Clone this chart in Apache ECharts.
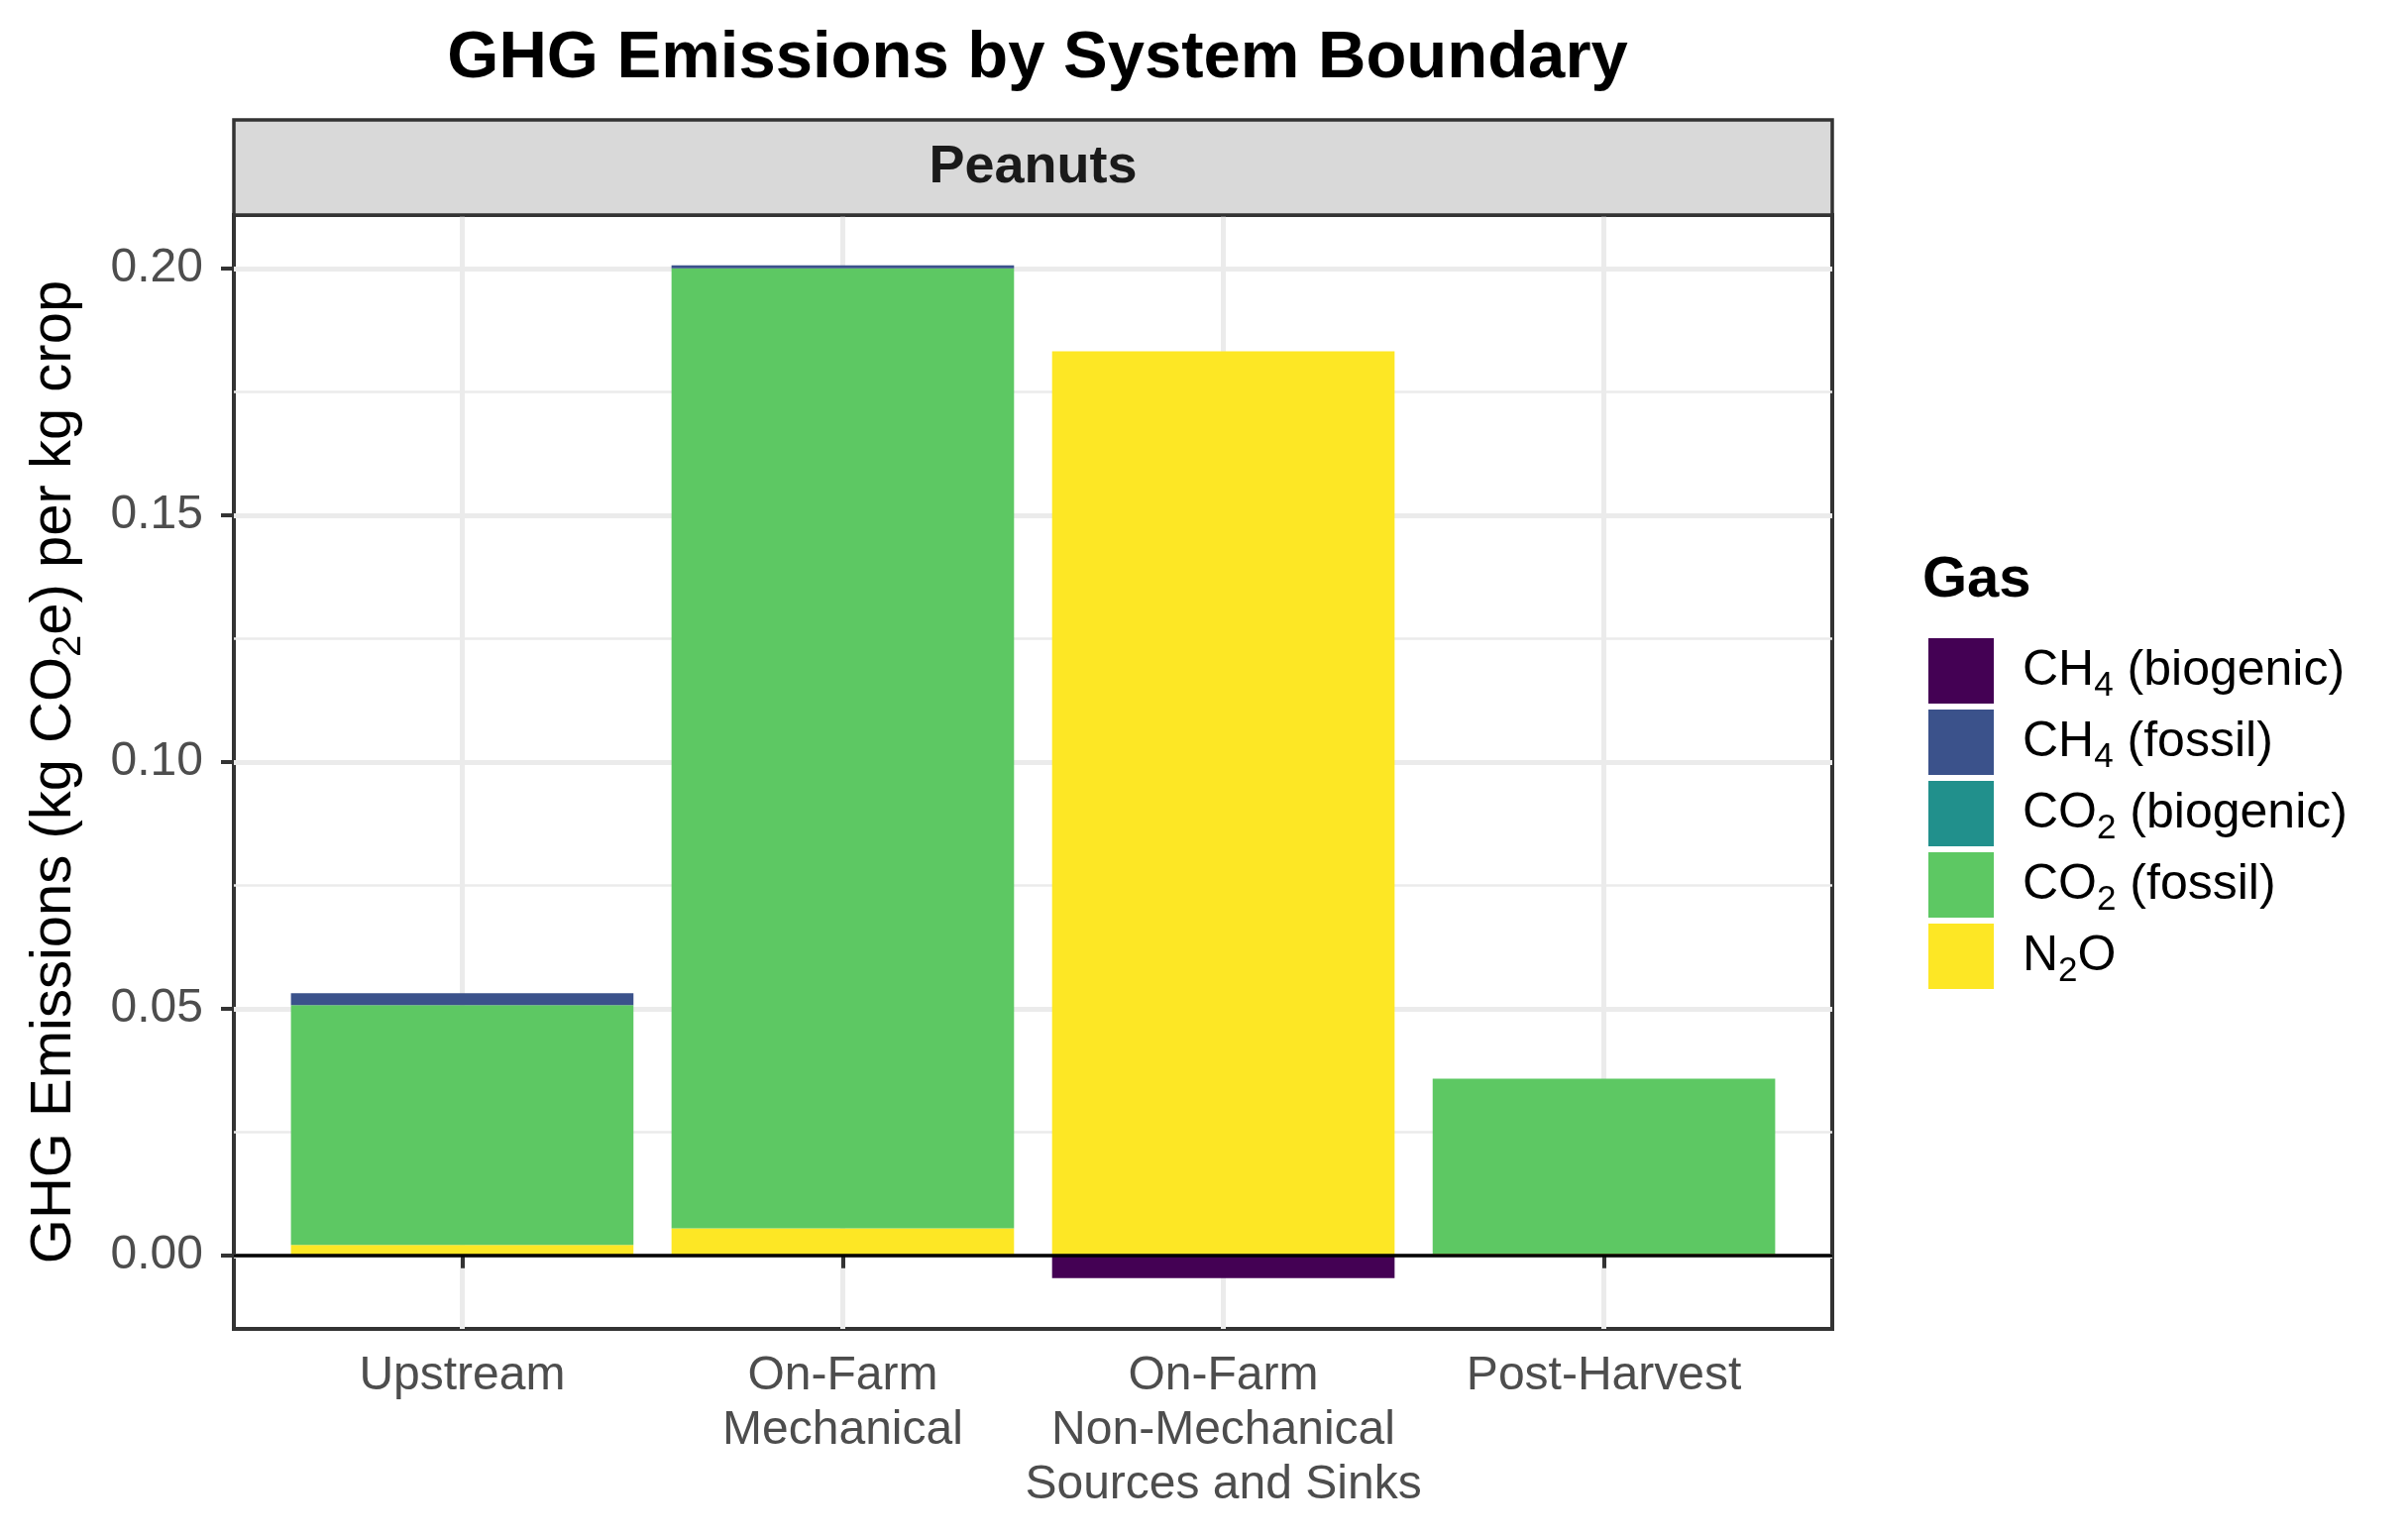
<!DOCTYPE html>
<html>
<head>
<meta charset="utf-8">
<script src="https://cdn.jsdelivr.net/npm/echarts@6/dist/echarts.min.js"></script>
<style>
html,body{margin:0;padding:0;background:#fff;}
#chart{width:2430px;height:1552px;}
</style>
</head>
<body>
<div id="chart"></div>
<script>
// ---- data ----
const categories = ['Upstream', 'On-Farm\nMechanical', 'On-Farm\nNon-Mechanical\nSources and Sinks', 'Post-Harvest'];
const ch4Biogenic = [0, 0, -0.0046, 0];
const ch4Fossil   = [0.0024, 0.0006, 0, 0];
const co2Biogenic = [0, 0, 0, 0];
const co2Fossil   = [0.0486, 0.1945, 0, 0.0355];
const n2o         = [0.0021, 0.0055, 0.1832, 0.0003];
const yTicks      = [0, 0.05, 0.10, 0.15, 0.20];
const yMinorTicks = [0.025, 0.075, 0.125, 0.175];
const yMin = -0.0149, yMax = 0.2108;
const gasNames  = ['CH4 (biogenic)', 'CH4 (fossil)', 'CO2 (biogenic)', 'CO2 (fossil)', 'N2O'];
const gasColors = ['#440154', '#3B528B', '#21908C', '#5DC863', '#FDE725'];
const panelTitle = 'Peanuts';

const FONT = '"Liberation Sans", Arial, Helvetica, sans-serif';
const xPos = categories.map((c, i) => i + 1);

// panel geometry (ggplot discrete expansion: 0.6 of a band on each side)
const PANEL_L = 236, PANEL_T = 217, PANEL_W = 1613, PANEL_H = 1124;
const BAND = PANEL_W / (categories.length + 0.2);
const BARS_L = PANEL_L + 0.1 * BAND;

// stacking order (bottom first) like ggplot: N2O, CO2 fossil, CO2 biogenic, CH4 fossil, CH4 biogenic
const stackOrder = [
  { name: 'N2O', data: n2o, color: gasColors[4] },
  { name: 'CO2 (fossil)', data: co2Fossil, color: gasColors[3] },
  { name: 'CO2 (biogenic)', data: co2Biogenic, color: gasColors[2] },
  { name: 'CH4 (fossil)', data: ch4Fossil, color: gasColors[1] },
  { name: 'CH4 (biogenic)', data: ch4Biogenic, color: gasColors[0] }
];

const legendRich = {
  'CH4 (biogenic)': '{sp| }{m|CH}{s|4}{m| (biogenic)}',
  'CH4 (fossil)': '{sp| }{m|CH}{s|4}{m| (fossil)}',
  'CO2 (biogenic)': '{sp| }{m|CO}{s|2}{m| (biogenic)}',
  'CO2 (fossil)': '{sp| }{m|CO}{s|2}{m| (fossil)}',
  'N2O': '{sp| }{m|N}{s|2}{m|O}'
};

const chart = echarts.init(document.getElementById('chart'), null, { renderer: 'canvas' });

const series = stackOrder.map(s => ({
  name: s.name,
  type: 'bar',
  stack: 'total',
  xAxisIndex: 0,
  yAxisIndex: 0,
  barWidth: '90%',
  data: s.data,
  itemStyle: { color: s.color, borderWidth: 0 },
  emphasis: { disabled: true },
  z: 2
}));

// horizontal reference line at y = 0 across the whole panel
series.push({
  name: 'zero',
  type: 'line',
  xAxisIndex: 1,
  yAxisIndex: 1,
  data: [],
  silent: true,
  z: 6,
  markLine: {
    silent: true,
    symbol: 'none',
    label: { show: false },
    lineStyle: { color: '#000000', width: 3.5, type: 'solid' },
    data: [{ yAxis: 0 }],
    z: 6
  }
});

const option = {
  animation: false,
  backgroundColor: '#ffffff',
  title: [
    {
      text: 'GHG Emissions by System Boundary',
      left: 1042,
      top: 21,
      textAlign: 'center',
      textStyle: { fontFamily: FONT, fontSize: 67, fontWeight: 'bold', color: '#000000' }
    },
    {
      text: 'Gas',
      left: 1935,
      top: 552,
      textStyle: { fontFamily: FONT, fontSize: 58, fontWeight: 'bold', color: '#000000' }
    }
  ],
  legend: {
    orient: 'vertical',
    left: 1941,
    top: 639,
    itemWidth: 66,
    itemHeight: 66,
    itemGap: 6,
    icon: 'rect',
    selectedMode: false,
    align: 'left',
    data: gasNames,
    formatter: name => legendRich[name],
    textStyle: {
      fontFamily: FONT,
      fontSize: 50,
      color: '#000000',
      rich: {
        sp: { width: 24, fontSize: 10, lineHeight: 66 },
        m: { fontFamily: FONT, fontSize: 50, color: '#000000', lineHeight: 66 },
        s: { fontFamily: FONT, fontSize: 35, color: '#000000', lineHeight: 40, verticalAlign: 'bottom' }
      }
    }
  },
  grid: [
    {
      left: BARS_L, top: PANEL_T, width: BAND * categories.length, height: PANEL_H,
      containLabel: false, outerBoundsMode: 'none', show: false
    },
    {
      left: PANEL_L, top: PANEL_T, width: PANEL_W, height: PANEL_H,
      containLabel: false, outerBoundsMode: 'none',
      show: true, backgroundColor: 'transparent', borderColor: '#333333', borderWidth: 4
    }
  ],
  xAxis: [
    {
      type: 'category',
      gridIndex: 0,
      data: categories,
      boundaryGap: true,
      axisLine: { show: false },
      axisTick: { show: false },
      axisLabel: { show: false },
      splitLine: { show: false }
    },
    {
      type: 'value',
      gridIndex: 1,
      min: 0.4,
      max: 4.6,
      axisLine: { show: false },
      axisTick: { show: true, customValues: xPos, length: 13, lineStyle: { color: '#333333', width: 4 } },
      axisLabel: {
        show: true,
        customValues: xPos,
        formatter: v => categories[Math.round(v) - 1],
        fontFamily: FONT,
        fontSize: 48,
        lineHeight: 55,
        color: '#4D4D4D',
        margin: 20,
        align: 'center'
      },
      splitLine: { show: true, lineStyle: { color: '#EBEBEB', width: 5 } }
    }
  ],
  yAxis: [
    {
      type: 'value',
      gridIndex: 0,
      min: yMin,
      max: yMax,
      axisLine: { show: false },
      axisTick: { show: false },
      axisLabel: { show: false },
      splitLine: { show: false }
    },
    {
      type: 'value',
      gridIndex: 1,
      min: yMin,
      max: yMax,
      position: 'left',
      axisLine: { show: false },
      axisTick: { show: true, customValues: yTicks, length: 13, lineStyle: { color: '#333333', width: 4 } },
      axisLabel: {
        show: true,
        customValues: yTicks,
        formatter: v => v.toFixed(2),
        fontFamily: FONT,
        fontSize: 48,
        color: '#4D4D4D',
        margin: 31
      },
      splitLine: { show: true, lineStyle: { color: '#EBEBEB', width: 5 } },
      name: '{m|GHG Emissions (kg CO}{s|2}{m|e) per kg crop}',
      nameLocation: 'middle',
      nameGap: 146,
      nameRotate: 90,
      nameTextStyle: {
        fontFamily: FONT,
        fontSize: 58,
        color: '#000000',
        rich: {
          m: { fontFamily: FONT, fontSize: 58, color: '#000000', lineHeight: 70 },
          s: { fontFamily: FONT, fontSize: 40, color: '#000000', lineHeight: 38, verticalAlign: 'bottom' }
        }
      }
    },
    {
      type: 'value',
      gridIndex: 1,
      min: yMin,
      max: yMax,
      position: 'right',
      axisLine: { show: false },
      axisTick: { show: false, customValues: yMinorTicks },
      axisLabel: { show: false, customValues: yMinorTicks },
      splitLine: { show: true, lineStyle: { color: '#EBEBEB', width: 2.5 } }
    }
  ],
  graphic: [
    {
      type: 'rect',
      shape: { x: PANEL_L, y: 121, width: PANEL_W, height: 96 },
      style: { fill: '#D9D9D9', stroke: '#333333', lineWidth: 3.5 },
      z: 5
    },
    {
      type: 'text',
      x: PANEL_L + PANEL_W / 2,
      y: 169,
      style: {
        text: panelTitle,
        fontFamily: FONT,
        fontSize: 54,
        fontWeight: 'bold',
        fill: '#1A1A1A',
        align: 'center',
        verticalAlign: 'middle'
      },
      z: 6
    }
  ],
  series: series
};

chart.setOption(option);
</script>
</body>
</html>
